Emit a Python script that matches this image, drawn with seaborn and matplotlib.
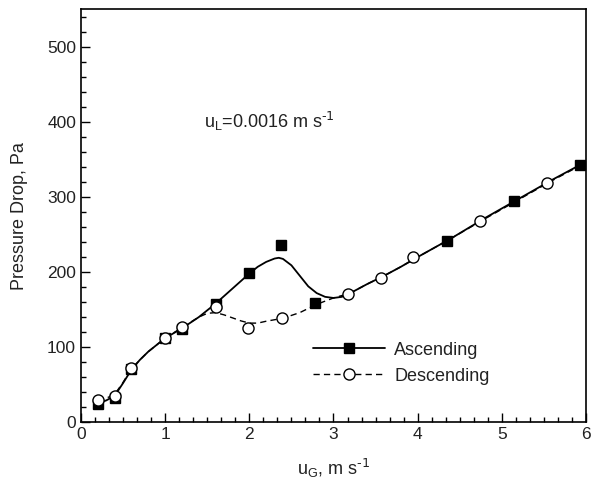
import numpy as np
import pandas as pd
import seaborn as sns
import matplotlib.pyplot as plt
from matplotlib.lines import Line2D
from matplotlib.ticker import MultipleLocator, AutoMinorLocator

# measured points
asc_x = [0.2, 0.4, 0.6, 1.0, 1.2, 1.6, 2.0, 2.38, 2.78, 4.35, 5.14, 5.93]
asc_y = [24, 32, 71, 112, 123.5, 157, 198.5, 236, 158.5, 242, 294, 342]
desc_x = [0.2, 0.4, 0.6, 1.0, 1.2, 1.6, 1.99, 2.39, 3.17, 3.56, 3.95, 4.74, 5.54]
desc_y = [29, 35.5, 71.7, 112.4, 126.5, 154, 126, 138.5, 171, 192.5, 220, 268.5, 319]

# fitted curves
asc_fit_x = [0.2, 0.3, 0.4, 0.5, 0.6, 0.7, 0.8, 0.9, 1.0, 1.2, 1.4, 1.6, 1.8, 2.0,
             2.1, 2.2, 2.3, 2.35, 2.4, 2.5, 2.6, 2.7, 2.8, 2.9, 3.0, 3.1, 3.2, 3.4,
             3.6, 3.8, 4.0, 4.4, 4.8, 5.2, 5.6, 6.0]
asc_fit_y = [25, 29, 35, 52, 70, 83, 94, 103, 112, 125, 140, 158, 178, 198,
             207, 213.5, 218, 219, 217.5, 209, 195, 181, 172, 167, 165.5, 167, 172, 184,
             195, 207, 220, 245, 272, 297.5, 323, 347]
desc_fit_x = [0.2, 0.3, 0.4, 0.5, 0.6, 0.7, 0.8, 0.9, 1.0, 1.2, 1.4, 1.5, 1.6, 1.7,
              1.8, 1.9, 2.0, 2.1, 2.2, 2.4, 2.6, 2.8, 3.0, 3.2, 3.4, 3.6, 3.8, 4.0,
              4.4, 4.8, 5.2, 5.6, 6.0]
desc_fit_y = [29, 32, 37, 53, 71, 83, 94, 103, 112, 126, 140, 145, 146, 143,
              139, 135, 132, 132, 134.5, 138.5, 146, 157, 165.5, 172, 184, 195, 207, 220,
              245, 271, 296.5, 322, 346]

sns.set_style("ticks")
plt.rcParams['font.family'] = ['Liberation Sans', 'DejaVu Sans']
plt.rcParams['mathtext.default'] = 'regular'

txt_color = '#222222'
dash = (0, (4.5, 3))

fig = plt.figure(figsize=(5.95, 4.87), dpi=100)
ax = fig.add_axes([0.136, 0.133, 0.849, 0.848])

sns.lineplot(x=asc_fit_x, y=asc_fit_y, ax=ax, color='black', lw=1.3, sort=False)
sns.lineplot(x=desc_fit_x, y=desc_fit_y, ax=ax, color='black', lw=1.0,
             linestyle=dash, sort=False)
ax.plot(asc_x, asc_y, 's', color='black', ms=7, zorder=3)
ax.plot(desc_x, desc_y, 'o', mfc='white', mec='black', mew=1.0, ms=8, zorder=4)

ax.set_xlim(0, 6)
ax.set_ylim(0, 550)
ax.xaxis.set_major_locator(MultipleLocator(1))
ax.xaxis.set_minor_locator(AutoMinorLocator(6))
ax.yaxis.set_major_locator(MultipleLocator(100))
ax.yaxis.set_minor_locator(AutoMinorLocator(5))
ax.tick_params(which='both', direction='in', labelsize=12.5, width=1,
               colors='black', labelcolor=txt_color)
ax.tick_params(which='major', length=6.5)
ax.tick_params(which='minor', length=3.6)
for s in ax.spines.values():
    s.set_linewidth(1.2)
    s.set_color('black')

ax.set_xlabel(r'u$_G$, m s$^{\text{-1}}$', fontsize=13, color=txt_color, labelpad=11)
ax.set_ylabel('Pressure Drop, Pa', fontsize=13, color=txt_color, labelpad=14)

ax.text(1.46, 392, r'u$_L$=0.0016 m s$^{\text{-1}}$', fontsize=13, color=txt_color)

handles = [
    Line2D([], [], color='black', lw=1.3, marker='s', ms=7),
    Line2D([], [], color='black', lw=1.0, linestyle=dash, marker='o',
           mfc='white', mec='black', ms=8),
]
ax.legend(handles, ['Ascending', 'Descending'], loc='center left',
          bbox_to_anchor=(0.459, 0.143), frameon=False, fontsize=13,
          handlelength=4.0, borderpad=0, borderaxespad=0, labelspacing=0.5,
          handletextpad=0.5, labelcolor=txt_color)

fig.savefig('out.png', dpi=100)
